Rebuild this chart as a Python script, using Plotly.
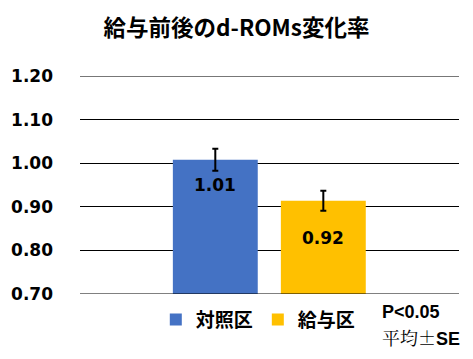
import plotly.graph_objects as go

groups = ["対照区", "給与区"]
values = [1.008, 0.914]
errors = [0.025, 0.023]
value_labels = ["1.01", "0.92"]
colors = ["#4472C4", "#FFC000"]
tick_vals = [0.70, 0.80, 0.90, 1.00, 1.10, 1.20]
tick_text = ["0.70", "0.80", "0.90", "1.00", "1.10", "1.20"]

offsets = [-0.255, 0.030]
label_drop = [0.057, 0.085]

fig = go.Figure()
for g, v, e, c, o in zip(groups, values, errors, colors, offsets):
    fig.add_trace(go.Bar(
        x=[""], y=[v], name=g, marker=dict(color=c, line=dict(width=0)),
        width=0.224, offset=o,
        error_y=dict(type="data", array=[e], color="black", thickness=2, width=3),
    ))

for lab, v, o, d in zip(value_labels, values, offsets, label_drop):
    fig.add_annotation(x=o + 0.112, y=v - d, xref="x", yref="y", text=lab,
                       showarrow=False,
                       font=dict(family="DejaVu Sans", size=17, color="black", weight="bold"))

# page body has an 8px margin, so the figure is laid out 8px smaller and shifted
fig.update_layout(
    width=457, height=343,
    margin=dict(l=72, r=6, t=68, b=57),
    paper_bgcolor="white", plot_bgcolor="white",
    title=dict(text="給与前後のd-ROMs変化率", x=0.5, xanchor="center",
               xref="container", yref="container", y=0.94, yanchor="middle",
               automargin=False,
               font=dict(family="Noto Sans CJK JP", size=22.5, color="black", weight="bold")),
    barmode="overlay",
    showlegend=True,
    legend=dict(orientation="h", x=0.20, y=-0.118, xanchor="left", yanchor="middle",
                font=dict(family="Noto Sans CJK JP", size=19, color="black", weight="bold"),
                itemwidth=30, bgcolor="rgba(0,0,0,0)", tracegroupgap=0),
    xaxis=dict(range=[-0.5, 0.5], showticklabels=False, showgrid=False, zeroline=False,
               showline=False, ticks="", automargin=False),
    yaxis=dict(range=[0.70, 1.2001], tickvals=tick_vals, ticktext=tick_text,
               showgrid=True, gridcolor="black", gridwidth=1, zeroline=False,
               showline=False, ticks="", ticklabelstandoff=26, automargin=False,
               tickfont=dict(family="DejaVu Sans", size=17, color="black", weight="bold")),
)

fig.add_annotation(x=0.792, y=-0.083, xref="paper", yref="paper", text="P<0.05",
                   xanchor="left", yanchor="middle", showarrow=False,
                   font=dict(family="Liberation Sans", size=18, color="black", weight="bold"))
fig.add_annotation(x=0.792, y=-0.197, xref="paper", yref="paper",
                   text="平均±<span style='font-family:Liberation Sans'><b>SE</b></span>",
                   xanchor="left", yanchor="middle", showarrow=False,
                   font=dict(family="Noto Serif CJK JP, Noto Sans CJK JP", size=18, color="black"))
fig.add_shape(type="line", xref="paper", yref="y", x0=0, x1=1, y0=0.70, y1=0.70,
              line=dict(color="black", width=1))
fig.add_shape(type="line", xref="paper", yref="y", x0=0, x1=1, y0=1.20, y1=1.20,
              line=dict(color="black", width=1))

fig.write_html("out.html")
